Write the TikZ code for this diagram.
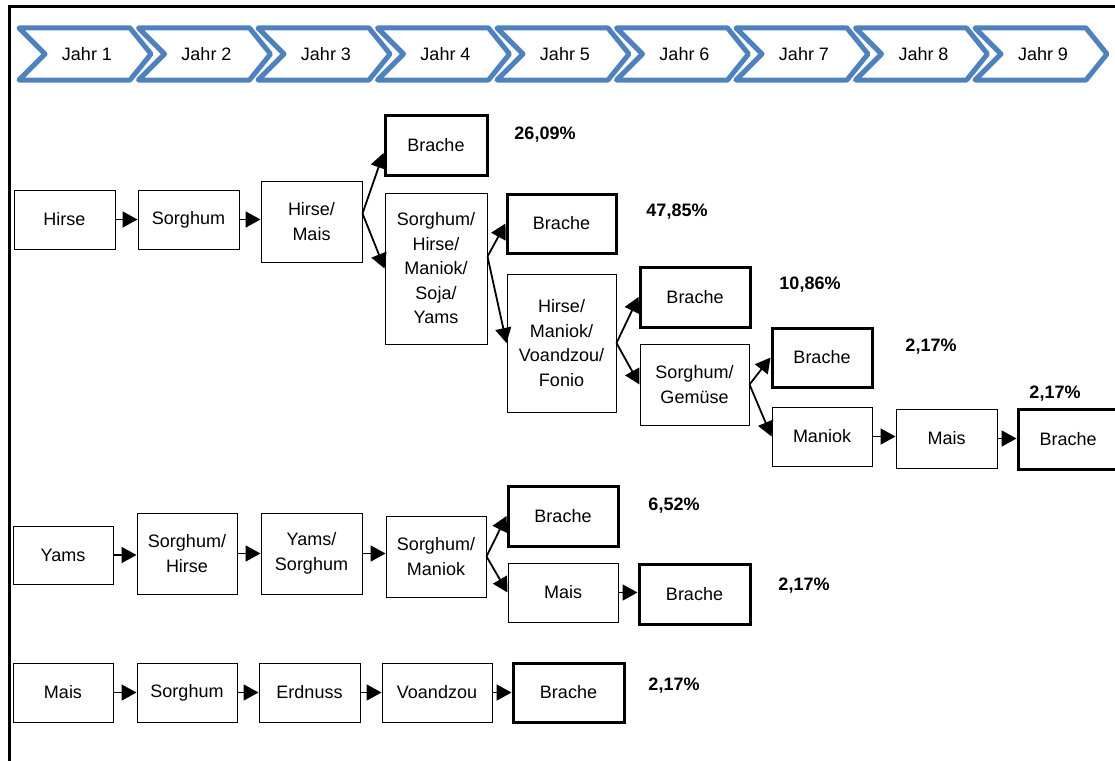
\documentclass[tikz,border=0pt]{standalone}
\usepackage{fontspec}
\setmainfont{Liberation Sans}
\usetikzlibrary{arrows.meta}
\definecolor{chevblue}{RGB}{79,129,189}
\begin{document}
\begin{tikzpicture}[x=1pt,y=-1pt,
  txt/.style={font=\fontsize{18}{24.5}\selectfont, align=center},
  box/.style={txt, draw, line width=1pt, inner sep=0pt},
  fallow/.style={box, line width=3pt},
  pct/.style={font=\fontsize{18}{24}\selectfont\bfseries, inner sep=0pt},
  arr/.style={-{Triangle[length=15pt,width=16pt]}, line width=1.8pt},
  chev/.style={draw=chevblue, line width=5pt, line join=round}]
\useasboundingbox (0,0) rectangle (1115,760);
\clip (0,0) rectangle (1115,760);
% frame
\draw[line width=3pt] (9,775) -- (9,7) -- (1130,7);
% chevrons
\foreach \i in {1,...,9}{
  \pgfmathsetmacro{\L}{19+(\i-1)*119.5}
  \draw[chev] (\L,28) -- (\L+111,28) -- (\L+132,54) -- (\L+111,80) -- (\L,80) -- (\L+26,54) -- cycle;
  \node[txt] (jahr\i) at (\L+68,54) {Jahr \i};
}
% row 1
\node[box, minimum width=101pt, minimum height=59pt] (hirse) at (64.5,219.5) {Hirse};
\node[box, minimum width=101pt, minimum height=59pt] (sorgA) at (188.5,219.5) {Sorghum};
\node[box, minimum width=101pt, minimum height=81pt] (hm) at (311.5,221.5) {Hirse/\\Mais};
\node[fallow, minimum width=102pt, minimum height=60pt] (brA) at (436,145) {Brache};
\node[box, minimum width=102pt, minimum height=151pt] (shmsy) at (436,268.5) {Sorghum/\\Hirse/\\Maniok/\\Soja/\\Yams};
\node[fallow, minimum width=109pt, minimum height=59pt] (brB) at (561.5,223.5) {Brache};
\node[box, minimum width=109pt, minimum height=138pt] (hmvf) at (561.5,343) {Hirse/\\Maniok/\\Voandzou/\\Fonio};
\node[fallow, minimum width=110pt, minimum height=60pt] (brC) at (695,297) {Brache};
\node[box, minimum width=109pt, minimum height=81pt] (sg) at (694.5,384.5) {Sorghum/\\Gemüse};
\node[fallow, minimum width=100pt, minimum height=59pt] (brD) at (822,357.5) {Brache};
\node[box, minimum width=100pt, minimum height=59pt] (maniok) at (822,436.5) {Maniok};
\node[box, minimum width=101pt, minimum height=59pt] (maisA) at (946.5,438.5) {Mais};
\node[fallow, minimum width=100pt, minimum height=60pt] (brE) at (1068,439) {Brache};
% row 2
\node[box, minimum width=100pt, minimum height=58pt] (yams) at (63,555) {Yams};
\node[box, minimum width=100pt, minimum height=81pt] (sh) at (187,553.5) {Sorghum/\\Hirse};
\node[box, minimum width=101pt, minimum height=81pt] (ys) at (311.5,553.5) {Yams/\\Sorghum};
\node[box, minimum width=100pt, minimum height=81pt] (sm) at (436,556.5) {Sorghum/\\Maniok};
\node[fallow, minimum width=110pt, minimum height=60pt] (brF) at (563,516) {Brache};
\node[box, minimum width=110pt, minimum height=59pt] (maisB) at (563,592.5) {Mais};
\node[fallow, minimum width=111pt, minimum height=60pt] (brG) at (694.5,594) {Brache};
% row 3
\node[box, minimum width=100pt, minimum height=59pt] (maisC) at (63,692.5) {Mais};
\node[box, minimum width=100pt, minimum height=59pt] (sorgC) at (187,692.5) {Sorghum};
\node[box, minimum width=101pt, minimum height=59pt] (erd) at (309.5,692.5) {Erdnuss};
\node[box, minimum width=110pt, minimum height=59pt] (voa) at (437,692.5) {Voandzou};
\node[fallow, minimum width=111pt, minimum height=59pt] (brH) at (568.5,692.5) {Brache};
% percentages
\node[pct] (p1) at (545,135) {26,09\%};
\node[pct] (p2) at (677,212) {47,85\%};
\node[pct] (p3) at (810,285) {10,86\%};
\node[pct] (p4) at (931,347) {2,17\%};
\node[pct] (p5) at (1055,394) {2,17\%};
\node[pct] (p6) at (674,506) {6,52\%};
\node[pct] (p7) at (804,586) {2,17\%};
\node[pct] (p8) at (674,686) {2,17\%};
% arrows row 1
\draw[arr] (hirse.east) -- (sorgA.west);
\draw[arr] (sorgA.east) -- (sorgA.east -| hm.west);
\draw[arr] ([yshift=8pt]hm.east) -- ([yshift=-8pt]brA.west);
\draw[arr] ([yshift=8pt]hm.east) -- (shmsy.west);
\draw[arr] ([yshift=12pt]shmsy.east) -- (brB.west);
\draw[arr] ([yshift=12pt]shmsy.east) -- (hmvf.west);
\draw[arr] (hmvf.east) -- (brC.west);
\draw[arr] (hmvf.east) -- (sg.west);
\draw[arr] (sg.east) -- (brD.west);
\draw[arr] (sg.east) -- (maniok.west);
\draw[arr] (maniok.east) -- (maniok.east -| maisA.west);
\draw[arr] (maisA.east) -- (maisA.east -| brE.west);
% arrows row 2
\draw[arr] (yams.east) -- (yams.east -| sh.west);
\draw[arr] (sh.east) -- (ys.west);
\draw[arr] (ys.east) -- (ys.east -| sm.west);
\draw[arr] (sm.east) -- (brF.west);
\draw[arr] (sm.east) -- (maisB.west);
\draw[arr] (maisB.east) -- (maisB.east -| brG.west);
% arrows row 3
\draw[arr] (maisC.east) -- (sorgC.west);
\draw[arr] (sorgC.east) -- (erd.west);
\draw[arr] (erd.east) -- (voa.west);
\draw[arr] (voa.east) -- (brH.west);
\end{tikzpicture}
\end{document}
